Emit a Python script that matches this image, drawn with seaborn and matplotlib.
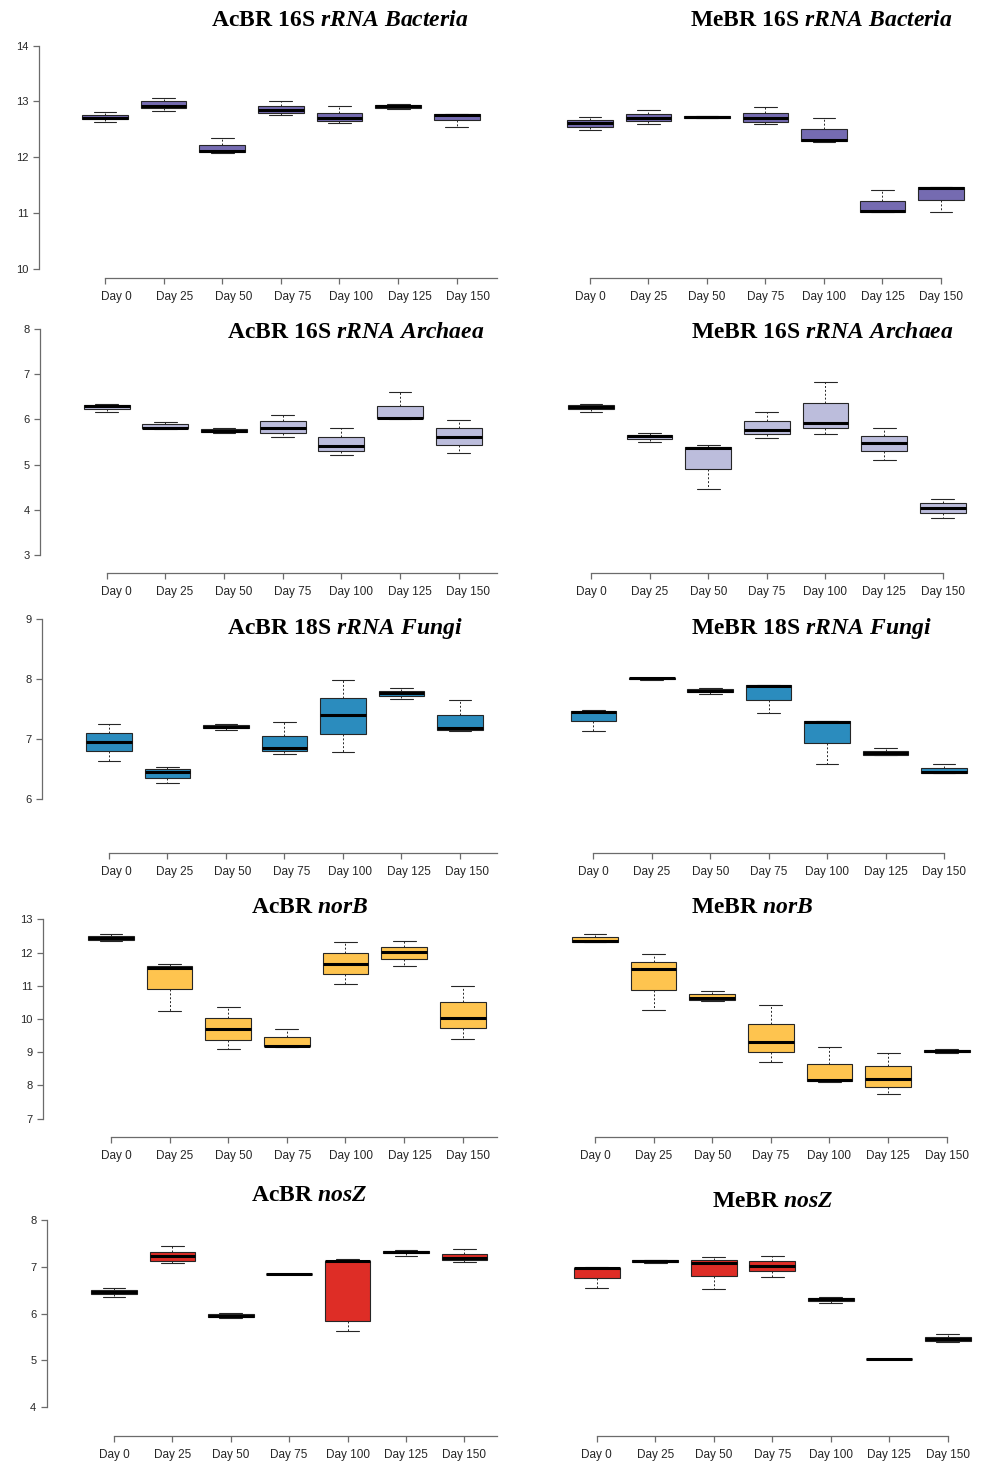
import numpy as np
import pandas as pd
import matplotlib
matplotlib.use("Agg")
import matplotlib.pyplot as plt
from matplotlib.transforms import ScaledTranslation
import seaborn as sns

days = ["Day 0", "Day 25", "Day 50", "Day 75", "Day 100", "Day 125", "Day 150"]

# Five-number summaries per sampling day: min, Q1, median, Q3, max (log10 copies)
acbr_bacteria = [
    [12.64, 12.68, 12.70, 12.76, 12.81],
    [12.83, 12.88, 12.92, 13.00, 13.06],
    [12.07, 12.09, 12.11, 12.22, 12.35],
    [12.75, 12.79, 12.85, 12.91, 13.00],
    [12.62, 12.65, 12.70, 12.80, 12.92],
    [12.86, 12.89, 12.92, 12.94, 12.95],
    [12.55, 12.66, 12.76, 12.77, 12.78],
]
mebr_bacteria = [
    [12.49, 12.55, 12.61, 12.67, 12.73],
    [12.60, 12.65, 12.71, 12.77, 12.85],
    [12.70, 12.71, 12.72, 12.735, 12.745],
    [12.59, 12.64, 12.71, 12.80, 12.90],
    [12.28, 12.29, 12.30, 12.51, 12.70],
    [11.01, 11.02, 11.03, 11.22, 11.41],
    [11.02, 11.23, 11.44, 11.46, 11.47],
]
acbr_archaea = [
    [6.16, 6.22, 6.29, 6.32, 6.33],
    [5.79, 5.80, 5.82, 5.89, 5.95],
    [5.71, 5.73, 5.75, 5.78, 5.80],
    [5.62, 5.71, 5.82, 5.96, 6.09],
    [5.21, 5.31, 5.42, 5.61, 5.80],
    [6.00, 6.02, 6.04, 6.30, 6.60],
    [5.26, 5.43, 5.60, 5.80, 5.99],
]
mebr_archaea = [
    [6.16, 6.22, 6.28, 6.31, 6.33],
    [5.49, 5.57, 5.63, 5.66, 5.70],
    [4.47, 4.91, 5.37, 5.40, 5.43],
    [5.59, 5.67, 5.77, 5.96, 6.16],
    [5.68, 5.80, 5.92, 6.37, 6.82],
    [5.11, 5.29, 5.47, 5.63, 5.80],
    [3.82, 3.94, 4.04, 4.14, 4.23],
]
acbr_fungi = [
    [6.64, 6.80, 6.95, 7.10, 7.25],
    [6.27, 6.36, 6.46, 6.50, 6.54],
    [7.15, 7.18, 7.20, 7.23, 7.25],
    [6.75, 6.80, 6.86, 7.06, 7.28],
    [6.79, 7.09, 7.40, 7.69, 7.98],
    [7.67, 7.72, 7.77, 7.81, 7.85],
    [7.13, 7.15, 7.18, 7.41, 7.65],
]
mebr_fungi = [
    [7.14, 7.30, 7.46, 7.47, 7.48],
    [7.99, 8.00, 8.01, 8.02, 8.02],
    [7.76, 7.79, 7.81, 7.84, 7.85],
    [7.43, 7.65, 7.89, 7.90, 7.91],
    [6.59, 6.94, 7.28, 7.30, 7.31],
    [6.73, 6.74, 6.77, 6.81, 6.85],
    [6.43, 6.44, 6.45, 6.52, 6.59],
]
acbr_norb = [
    [12.35, 12.39, 12.44, 12.50, 12.57],
    [10.25, 10.89, 11.52, 11.58, 11.66],
    [9.09, 9.38, 9.69, 10.02, 10.36],
    [9.16, 9.18, 9.20, 9.45, 9.71],
    [11.04, 11.35, 11.66, 11.99, 12.33],
    [11.60, 11.80, 12.01, 12.18, 12.36],
    [9.39, 9.72, 10.03, 10.50, 10.98],
]
mebr_norb = [
    [12.31, 12.33, 12.36, 12.46, 12.57],
    [10.27, 10.88, 11.50, 11.72, 11.95],
    [10.54, 10.58, 10.62, 10.74, 10.85],
    [8.71, 9.00, 9.30, 9.86, 10.42],
    [8.11, 8.13, 8.15, 8.65, 9.15],
    [7.73, 7.96, 8.20, 8.59, 8.98],
    [8.99, 9.01, 9.04, 9.07, 9.09],
]
acbr_nosz = [
    [6.35, 6.42, 6.46, 6.50, 6.54],
    [7.07, 7.13, 7.22, 7.32, 7.44],
    [5.90, 5.93, 5.95, 5.98, 6.02],
    [6.835, 6.838, 6.84, 6.842, 6.845],
    [5.63, 5.85, 7.12, 7.13, 7.17],
    [7.23, 7.29, 7.32, 7.34, 7.35],
    [7.11, 7.14, 7.19, 7.27, 7.37],
]
mebr_nosz = [
    [6.54, 6.75, 6.97, 6.98, 6.99],
    [7.08, 7.10, 7.13, 7.14, 7.15],
    [6.52, 6.80, 7.09, 7.14, 7.21],
    [6.79, 6.90, 7.02, 7.13, 7.23],
    [6.22, 6.27, 6.30, 6.33, 6.35],
    [5.025, 5.028, 5.03, 5.032, 5.035],
    [5.40, 5.41, 5.45, 5.50, 5.56],
]

W, H = 987, 1463
sns.set_theme(style="ticks")
plt.rcParams.update({
    "font.family": ["Liberation Sans", "DejaVu Sans"],
    "mathtext.fontset": "custom",
    "mathtext.rm": "Liberation Serif:bold",
    "mathtext.it": "Liberation Serif:bold:italic",
    "mathtext.bf": "Liberation Serif:bold",
    "axes.edgecolor": "#6b6b6b",
    "axes.linewidth": 0.9,
    "xtick.color": "#6b6b6b",
    "ytick.color": "#6b6b6b",
    "xtick.labelcolor": "#262626",
    "ytick.labelcolor": "#262626",
    "xtick.labelsize": 8.5,
    "ytick.labelsize": 8,
    "xtick.major.size": 4,
    "ytick.major.size": 4,
    "xtick.major.width": 0.9,
    "ytick.major.width": 0.9,
})

fig = plt.figure(figsize=(W / 100, H / 100), dpi=100)

# panel rows: data, fill colour, title pieces, y ticks, and pixel layout
rows = [
    dict(left=acbr_bacteria, right=mebr_bacteria, color="#756bb1",
         plain="16S", ital="rRNA\\ Bacteria", yticks=[10, 11, 12, 13, 14],
         lx=(105, 456.7), rx=(590, 941), ytop=(45.7, 14), ybot=(268.7, 10),
         lyb=277.7, ryb=277.7, spine=38.7, lt=(340, 20), rt=(821, 20), dx=11.5),
    dict(left=acbr_archaea, right=mebr_archaea, color="#bcbddc",
         plain="16S", ital="rRNA\\ Archaea", yticks=[3, 4, 5, 6, 7, 8],
         lx=(106.7, 458.7), rx=(591, 942.7), ytop=(329, 8), ybot=(555, 3),
         lyb=573.3, ryb=572.7, spine=40, lt=(356, 331.7), rt=(822.5, 331.7), dx=9.5),
    dict(left=acbr_fungi, right=mebr_fungi, color="#2b8cbe",
         plain="18S", ital="rRNA\\ Fungi", yticks=[6, 7, 8, 9],
         lx=(109, 460), rx=(593.3, 944), ytop=(619, 9), ybot=(799.3, 6),
         lyb=853.3, ryb=853.3, spine=41.7, lt=(345, 628.3), rt=(811.7, 628.3), dx=7),
    dict(left=acbr_norb, right=mebr_norb, color="#fec44f",
         plain=None, ital="norB", yticks=[7, 8, 9, 10, 11, 12, 13],
         lx=(111, 462.7), rx=(595, 946.7), ytop=(919.3, 13), ybot=(1118.7, 7),
         lyb=1137, ryb=1137, spine=43.3, lt=(310, 906.7), rt=(752.5, 906.7), dx=5.5),
    dict(left=acbr_nosz, right=mebr_nosz, color="#de2d26",
         plain=None, ital="nosZ", yticks=[4, 5, 6, 7, 8],
         lx=(114, 464.3), rx=(596.7, 947.7), ytop=(1220, 8), ybot=(1407, 4),
         lyb=1436, ryb=1436, spine=46.7, lt=(309, 1195), rt=(773, 1200.7), dx=0),
]

XPAD = 0.75
AXIS_END_PX = 497


def make_frame(summary):
    recs = []
    for day, vals in zip(days, summary):
        for v in vals:
            recs.append({"day": day, "value": v})
    return pd.DataFrame(recs)


def title_text(site, row):
    if row["plain"]:
        return r"$\mathrm{%s\ %s\ }\mathit{%s}$" % (site, row["plain"], row["ital"])
    return r"$\mathrm{%s\ }\mathit{%s}$" % (site, row["ital"])


def draw_panel(row, side):
    x0, x6 = row["lx"] if side == "left" else row["rx"]
    yb = row["lyb"] if side == "left" else row["ryb"]
    (ytp, ytv), (ybp, ybv) = row["ytop"], row["ybot"]
    u = (x6 - x0) / 6
    xl, xr = x0 - XPAD * u, x6 + XPAD * u
    pv = (ybp - ytp) / (ytv - ybv)
    lo = ybv - (yb - ybp) / pv
    ax = fig.add_axes([xl / W, 1 - yb / H, (xr - xl) / W, (yb - ytp) / H])

    df = make_frame(row[side])
    sns.boxplot(
        data=df, x="day", y="value", order=days, ax=ax,
        color=row["color"], saturation=1, width=0.78, whis=(0, 100),
        showfliers=False, linecolor="#262626", linewidth=0.8,
        medianprops=dict(color="black", linewidth=2.2),
        whiskerprops=dict(color="#262626", linewidth=0.7, linestyle=(0, (2, 2))),
        capprops=dict(color="#262626", linewidth=0.8),
    )
    ax.set_xlim(-XPAD, 6 + XPAD)
    ax.set_ylim(lo, ytv)
    ax.set_xlabel("")
    ax.set_ylabel("")
    ax.set_xticks(range(len(days)))
    ax.set_xticklabels(days)
    ax.tick_params(axis="x", pad=5.5)
    ax.spines["top"].set_visible(False)
    ax.spines["right"].set_visible(False)

    if side == "left":
        ax.spines["bottom"].set_bounds(0, (AXIS_END_PX - x0) / u)
        ax.spines["left"].set_position(("outward", (xl - row["spine"]) * 0.72))
        ax.spines["left"].set_bounds(row["yticks"][0], row["yticks"][-1])
        ax.set_yticks(row["yticks"])
        ax.tick_params(axis="y", pad=3.5)
        shift = ScaledTranslation(row["dx"] / 100, 0, fig.dpi_scale_trans)
        for lab in ax.get_xticklabels():
            lab.set_transform(lab.get_transform() + shift)
        tx, ty = row["lt"]
        site = "AcBR"
    else:
        ax.spines["bottom"].set_bounds(0, 6)
        ax.spines["left"].set_visible(False)
        ax.set_yticks([])
        tx, ty = row["rt"]
        site = "MeBR"

    fig.text(tx / W, 1 - ty / H, title_text(site, row), fontsize=17,
             ha="center", va="center", color="black")


for row in rows:
    draw_panel(row, "left")
    draw_panel(row, "right")

fig.savefig("out.png", dpi=100, facecolor="white")
